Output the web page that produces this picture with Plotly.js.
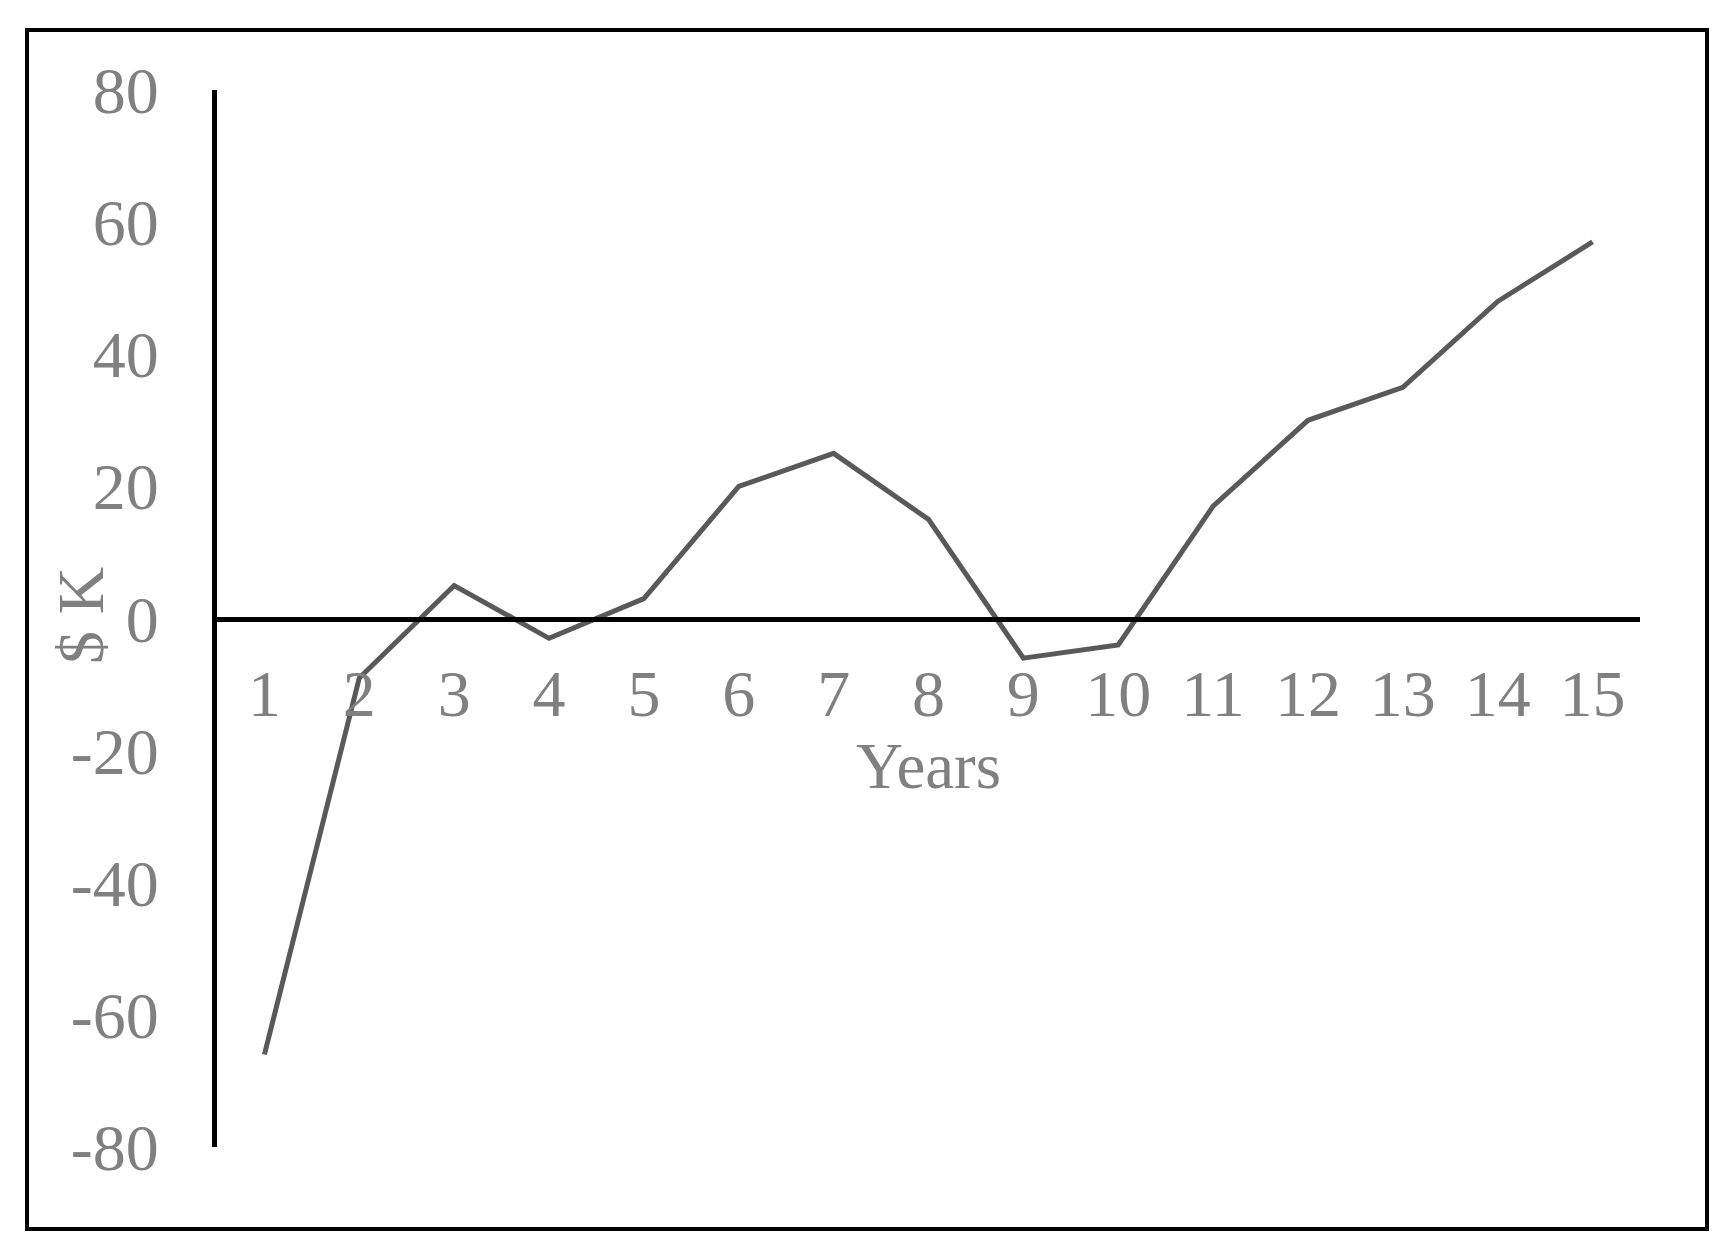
<!DOCTYPE html>
<html>
<head>
<meta charset="utf-8">
<script src="https://cdn.plot.ly/plotly-3.0.1.min.js"></script>
<style>html,body{margin:0;padding:0;background:#fff;}#chart{width:1735px;height:1258px;}</style>
</head>
<body>
<div id="chart"></div>
<script>
const years = ['1','2','3','4','5','6','7','8','9','10','11','12','13','14','15'];
const valuesK = [-66, -9, 5, -3, 3, 20, 25, 15, -6, -4, 17, 30, 35, 48, 57];
const yTicks = [-80, -60, -40, -20, 0, 20, 40, 60, 80];
const xTitle = 'Years';
const yTitle = '$ K';

const W = 1735, H = 1258;
const L = 217, R = 1640, T = 90, B = 1147;
const pw = R - L, ph = B - T;
const px = v => (v - L) / pw;
const py = v => (B - v) / ph;

const font = 'Liberation Serif, Times New Roman, serif';
const grey = '#808080';

const trace = {
  x: years.map((_, i) => i + 1),
  y: valuesK,
  type: 'scatter',
  mode: 'lines',
  line: {color: '#595959', width: 5},
  hoverinfo: 'x+y'
};

const layout = {
  width: W, height: H,
  margin: {l: L, r: W - R, t: T, b: H - B, pad: 0},
  paper_bgcolor: '#ffffff',
  plot_bgcolor: '#ffffff',
  showlegend: false,
  font: {family: font, color: grey, size: 66},
  xaxis: {
    range: [0.5, 15.5],
    tickmode: 'array',
    tickvals: years.map((_, i) => i + 1),
    ticktext: years,
    anchor: 'free',
    position: 0.5,
    showline: true, linecolor: '#000000', linewidth: 5,
    showgrid: false, zeroline: false, ticks: '',
    ticklabelstandoff: 15,
    tickfont: {family: font, color: grey, size: 66},
    title: {text: xTitle, font: {family: font, color: grey, size: 65}, standoff: 2},
    fixedrange: true
  },
  yaxis: {
    range: [-80, 80],
    tickmode: 'array',
    tickvals: yTicks,
    ticktext: yTicks.map(String),
    showline: true, linecolor: '#000000', linewidth: 5,
    showgrid: false, zeroline: false, ticks: '',
    ticklabelstandoff: 40,
    tickfont: {family: font, color: grey, size: 66},
    fixedrange: true
  },
  annotations: [{
    text: yTitle,
    xref: 'paper', yref: 'paper',
    x: px(80), y: py(616),
    xanchor: 'center', yanchor: 'middle',
    textangle: -90,
    showarrow: false,
    font: {family: font, color: grey, size: 66}
  }],
  shapes: [{
    type: 'rect', xref: 'paper', yref: 'paper',
    x0: px(27), x1: px(1707), y0: py(1229), y1: py(30),
    line: {color: '#000000', width: 4},
    fillcolor: 'rgba(0,0,0,0)',
    layer: 'below'
  }]
};

Plotly.newPlot('chart', [trace], layout, {displayModeBar: false, staticPlot: true});
</script>
</body>
</html>
